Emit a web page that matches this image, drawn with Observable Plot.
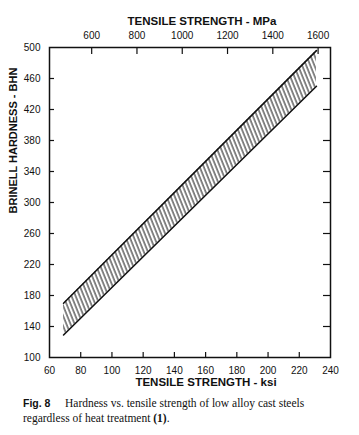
<!DOCTYPE html>
<html>
<head>
<meta charset="utf-8">
<script src="https://cdn.jsdelivr.net/npm/d3@7"></script>
<script src="https://cdn.jsdelivr.net/npm/@observablehq/plot@0.6"></script>
<style>
  body { margin: 0; background: #fff; }
  #chart { width: 359px; }
  .cap { font-family: "Liberation Serif", serif; font-size: 11.5px; color: #111; padding-left: 23px; line-height: 15px; margin-top: 1px; width: 336px; }
  .cap b.fig { font-family: "Liberation Sans", sans-serif; font-size: 10.5px; display: inline-block; width: 42px; }
</style>
</head>
<body>
<div id="chart"></div>
<div class="cap"><b class="fig">Fig. 8</b>Hardness vs. tensile strength of low alloy cast steels<br>regardless of heat treatment <b>(1)</b>.</div>
<script>
// Data
const bandKsi   = [69, 231];   // tensile strength, ksi
const bandUpper = [170, 496];  // upper hardness bound, BHN
const bandLower = [129, 450];  // lower hardness bound, BHN
const ksiTicks  = [60, 80, 100, 120, 140, 160, 180, 200, 220, 240];
const bhnTicks  = [100, 140, 180, 220, 260, 300, 340, 380, 420, 460, 500];
const mpaTicks  = [600, 800, 1000, 1200, 1400, 1600];
const MPA_PER_KSI = 6.895;
const titleTop    = ["TENSILE STRENGTH - MPa"];
const titleBottom = ["TENSILE STRENGTH - ksi"];
const titleLeft   = ["BRINELL HARDNESS - BHN"];

const band = bandKsi.map((k, i) => ({ksi: k, lo: bandLower[i], hi: bandUpper[i]}));
const mpaAsKsi = mpaTicks.map(m => m / MPA_PER_KSI);
const blank = () => "";

const plot = Plot.plot({
  width: 359,
  height: 395,
  marginTop: 47,
  marginBottom: 38,
  marginLeft: 49,
  marginRight: 29,
  style: {fontFamily: "Liberation Sans, sans-serif", fontSize: "10px", color: "#111", background: "#fff"},
  x: {domain: [60, 240]},
  y: {domain: [100, 500]},
  marks: [
    Plot.areaY(band, {x: "ksi", y1: "lo", y2: "hi", fill: "url(#hatch)"}),
    Plot.line(band, {x: "ksi", y: "hi", stroke: "#111", strokeWidth: 1.6}),
    Plot.line(band, {x: "ksi", y: "lo", stroke: "#111", strokeWidth: 1.6}),
    Plot.frame({stroke: "#111", strokeWidth: 1.5}),
    // bottom axis (ksi)
    Plot.axisX({anchor: "bottom", ticks: ksiTicks, tickSize: 0, tickPadding: 9, label: null}),
    Plot.axisX({anchor: "bottom", ticks: ksiTicks.slice(1, -1), tickSize: -5, tickFormat: blank, label: null, strokeWidth: 1.2}),
    // top axis (MPa)
    Plot.axisX({anchor: "top", ticks: mpaAsKsi, tickSize: 0, tickPadding: 9, label: null,
                tickFormat: d => String(Math.round(d * MPA_PER_KSI / 100) * 100)}),
    Plot.axisX({anchor: "top", ticks: mpaAsKsi, tickSize: -6, tickFormat: blank, label: null, strokeWidth: 1.2}),
    // left axis (BHN)
    Plot.axisY({anchor: "left", ticks: bhnTicks, tickSize: 0, tickPadding: 9, label: null}),
    Plot.axisY({anchor: "left", ticks: bhnTicks.slice(1, -1), tickSize: -5, tickFormat: blank, label: null, strokeWidth: 1.2}),
    // right ticks
    Plot.axisY({anchor: "right", ticks: bhnTicks.slice(1, -1), tickSize: -8, tickFormat: blank, label: null, strokeWidth: 1.2}),
    // titles
    Plot.text(titleTop, {text: d => d, frameAnchor: "top", dy: -31, dx: 12, fontWeight: "bold", fontSize: 11.5}),
    Plot.text(titleBottom, {text: d => d, frameAnchor: "bottom", dy: 28, dx: 16, fontWeight: "bold", fontSize: 11.5}),
    Plot.text(titleLeft, {text: d => d, frameAnchor: "left", dx: -36, dy: 11, rotate: -90, fontWeight: "bold", fontSize: 11})
  ]
});

// hatch pattern definition
const ns = "http://www.w3.org/2000/svg";
const defs = document.createElementNS(ns, "defs");
const pat = document.createElementNS(ns, "pattern");
pat.setAttribute("id", "hatch");
pat.setAttribute("patternUnits", "userSpaceOnUse");
pat.setAttribute("width", "3.8");
pat.setAttribute("height", "10");
pat.setAttribute("patternTransform", "rotate(-22)");
const ln = document.createElementNS(ns, "line");
ln.setAttribute("x1", "1"); ln.setAttribute("y1", "0");
ln.setAttribute("x2", "1"); ln.setAttribute("y2", "10");
ln.setAttribute("stroke", "#111");
ln.setAttribute("stroke-width", "1");
pat.appendChild(ln);
defs.appendChild(pat);
plot.insertBefore(defs, plot.firstChild);

document.getElementById("chart").appendChild(plot);
</script>
</body>
</html>
